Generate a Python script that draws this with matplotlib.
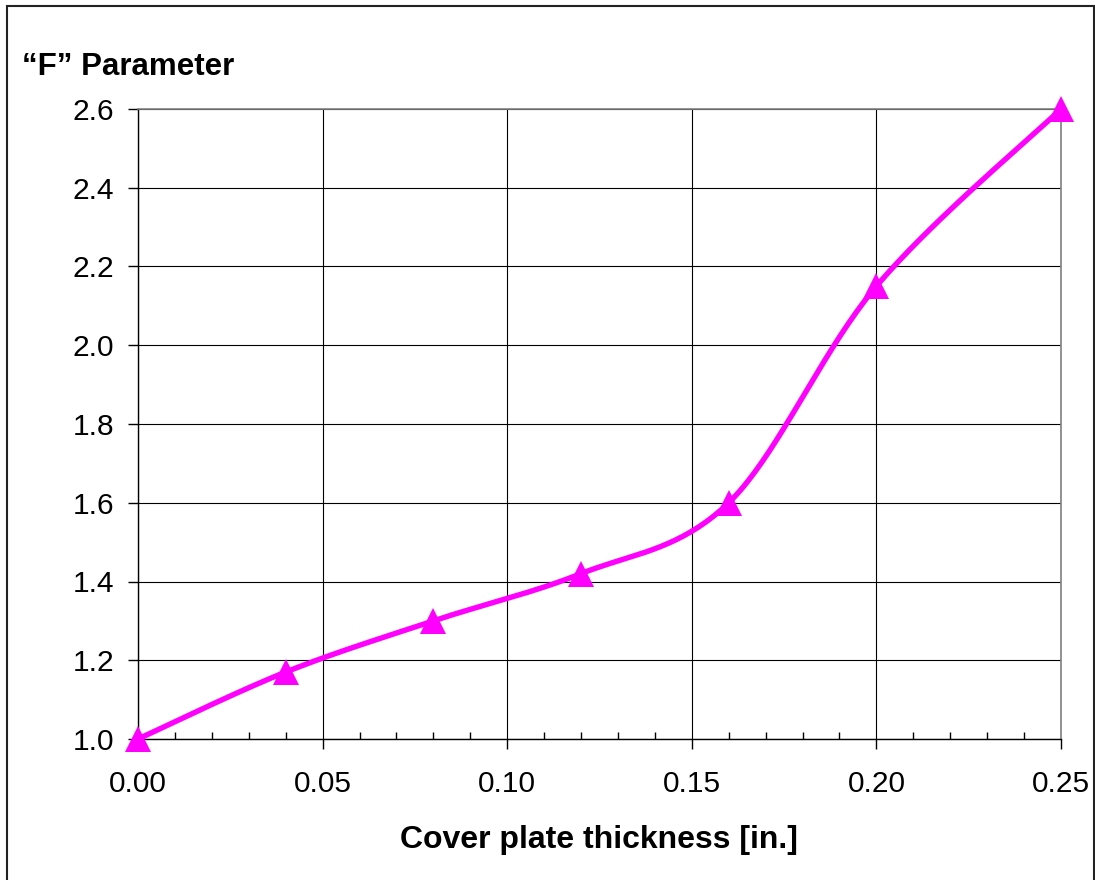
import numpy as np
import matplotlib
matplotlib.use("Agg")
import matplotlib.pyplot as plt
from matplotlib.patches import Rectangle
from matplotlib.ticker import MultipleLocator, FormatStrFormatter

# Data
thickness = [0.00, 0.04, 0.08, 0.12, 0.16, 0.20, 0.25]
f_param = [1.00, 1.17, 1.30, 1.42, 1.60, 2.15, 2.60]
x_label = "Cover plate thickness [in.]"
y_label = "\u201cF\u201d Parameter"

plt.rcParams['font.family'] = ['Liberation Sans', 'DejaVu Sans']

W, H = 1095, 880
fig = plt.figure(figsize=(W / 100, H / 100), dpi=100)
ax = fig.add_axes([138 / W, 1 - 739 / H, (1061 - 138) / W, (739 - 109) / H])

# Excel-style smoothed line (cubic Bezier through the points)
def smooth(xs, ys, n=40):
    P = np.column_stack([xs, ys]).astype(float)
    m = len(P)
    out = []
    for i in range(m - 1):
        p0 = P[i - 1] if i > 0 else P[i]
        p1 = P[i]
        p2 = P[i + 1]
        p3 = P[i + 2] if i + 2 < m else P[i + 1]
        c1 = p1 + (p2 - p0) / 6.0
        c2 = p2 - (p3 - p1) / 6.0
        t = np.linspace(0, 1, n)[:, None]
        seg = ((1 - t) ** 3) * p1 + 3 * ((1 - t) ** 2) * t * c1 + 3 * (1 - t) * t ** 2 * c2 + t ** 3 * p2
        out.append(seg if i == 0 else seg[1:])
    out = np.vstack(out)
    return out[:, 0], out[:, 1]

sx, sy = smooth(thickness, f_param)
ax.plot(sx, sy, color='#FF00FF', lw=3.9, solid_capstyle='butt', zorder=3, clip_on=False)
ax.plot(thickness, f_param, linestyle='none', marker='^', markersize=19,
        color='#FF00FF', markeredgewidth=0, zorder=4, clip_on=False)

ax.set_xlim(0, 0.25)
ax.set_ylim(1.0, 2.6)
ax.xaxis.set_major_locator(MultipleLocator(0.05))
ax.xaxis.set_minor_locator(MultipleLocator(0.01))
ax.yaxis.set_major_locator(MultipleLocator(0.2))
ax.xaxis.set_major_formatter(FormatStrFormatter('%.2f'))
ax.yaxis.set_major_formatter(FormatStrFormatter('%.1f'))

ax.grid(True, which='major', color='#000000', lw=0.8)
ax.set_axisbelow(True)

for s in ['top', 'right']:
    ax.spines[s].set_color('#808080')
    ax.spines[s].set_linewidth(1.2)
for s in ['left', 'bottom']:
    ax.spines[s].set_color('#000000')
    ax.spines[s].set_linewidth(1.0)

ax.tick_params(axis='x', which='major', direction='out', length=7, width=1, labelsize=21.5, pad=15)
ax.tick_params(axis='x', which='minor', direction='in', length=5, width=1)
ax.tick_params(axis='y', which='major', direction='out', length=7, width=1, labelsize=21.5, pad=10)

fig.text(22 / W, 1 - 75 / H, y_label, fontsize=22.5, fontweight='bold', ha='left', va='baseline')
fig.text(599 / W, 1 - 848 / H, x_label, fontsize=23, fontweight='bold', ha='center', va='baseline')

fig.patches.append(Rectangle((7 / W, -0.02), (1094 - 7) / W, 1 - 6 / H + 0.02,
                             transform=fig.transFigure, fill=False,
                             edgecolor='#222222', lw=1.5, zorder=0))

fig.savefig('out.png', dpi=100)
